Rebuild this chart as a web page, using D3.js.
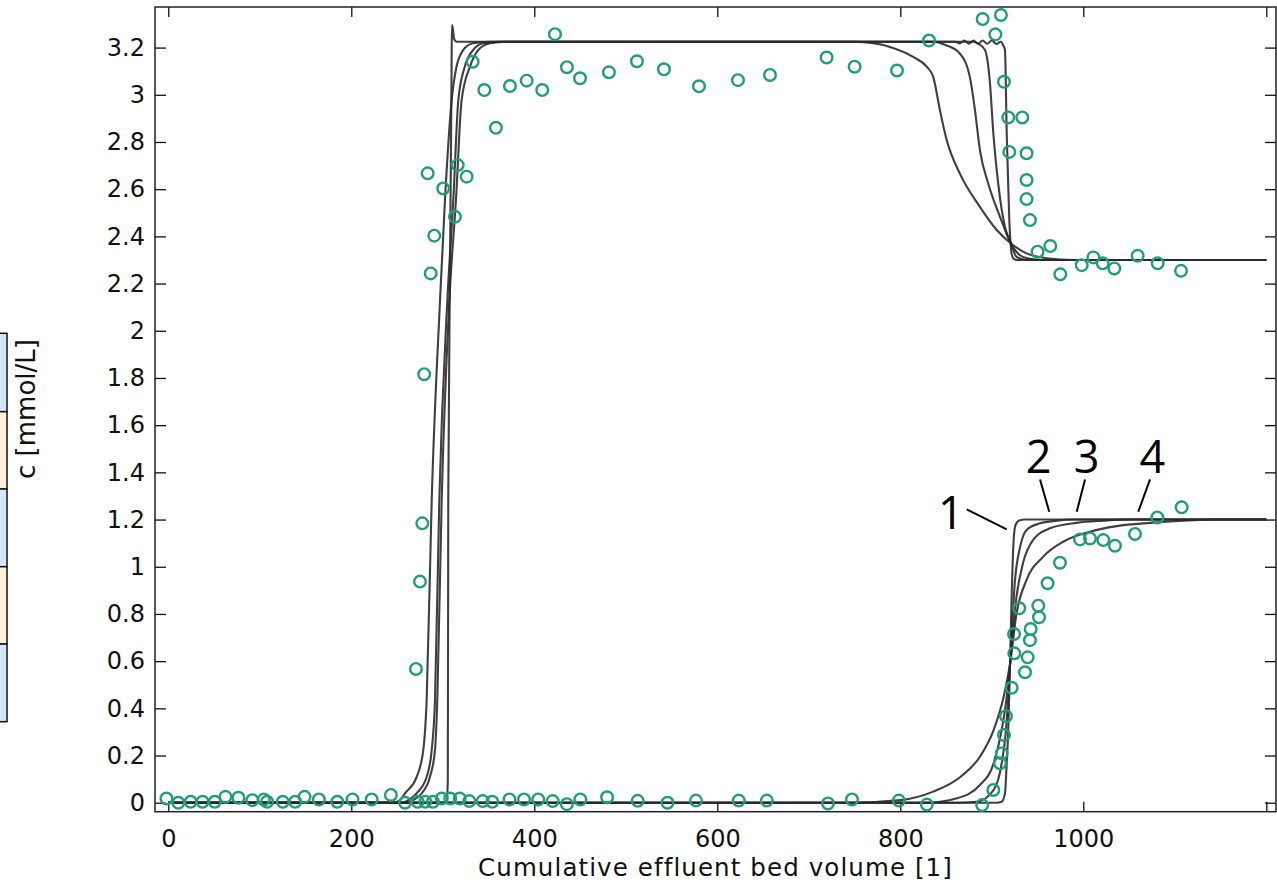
<!DOCTYPE html>
<html>
<head>
<meta charset="utf-8">
<script src="https://cdn.jsdelivr.net/npm/d3@7"></script>
<style>
  html, body { margin: 0; padding: 0; background: #fff; }
  svg { display: block; }
</style>
</head>
<body>
<svg id="chart" width="1277" height="882"></svg>
<script>
// ---------------- data ----------------
const xTicks = [0, 200, 400, 600, 800, 1000, 1200];
const yTicks = [0, 0.2, 0.4, 0.6, 0.8, 1, 1.2, 1.4, 1.6, 1.8, 2, 2.2, 2.4, 2.6, 2.8, 3, 3.2];
const xLabel = "Cumulative effluent bed volume [1]";
const yLabel = "c [mmol/L]";
const curveLabels = ["1", "2", "3", "4"];

// model curves, component A (breakthrough ~300, displacement ~920)
const curveA1 = [[0,0],[304.5,0],[305.5,0.1],[306,1.28],[308,2.3],[309.6,3.1],[310,3.295],[311,3.28],[312.5,3.235],[315,3.225],
  [860,3.225],[865,3.218],[870,3.23],[875,3.217],[880,3.23],[885,3.216],[890,3.23],[895,3.216],[900,3.23],[905,3.215],[910,3.225],
  [912.5,3.21],[914.4,3.19],[916.3,2.836],[919,2.483],[921.6,2.328],[924,2.305],[928,2.3],[1200,2.3]];
const curveA2 = [[0,0],[262,0],[267,0.01],[277,0.04],[286,0.11],[291.5,0.223],[294,0.435],[298.8,1.282],[307.2,2.13],[314.4,2.554],
  [320.6,2.977],[329.7,3.119],[338.8,3.19],[351.6,3.218],[370,3.225],
  [880,3.225],[886,3.215],[892.6,3.19],[898,3.05],[901.7,2.836],[907,2.625],[914.4,2.44],[921,2.37],[927,2.313],[935,2.302],[946,2.3],[1200,2.3]];
const curveA3 = [[0,0],[255,0],[262,0.01],[271.5,0.04],[282.4,0.11],[287.9,0.223],[291.5,0.435],[296.2,1.282],[305,2.13],[311.5,2.554],
  [317,2.977],[324,3.119],[333.3,3.19],[344,3.218],[360,3.225],
  [835,3.225],[850,3.21],[865,3.175],[876,3.076],[881.6,2.935],[887,2.766],[896,2.625],[909,2.483],[921,2.37],[930.8,2.32],[942,2.305],[953,2.3],[1200,2.3]];
const curveA4 = [[0,0],[245,0],[253,0.01],[258.7,0.04],[271.5,0.11],[278.7,0.223],[282.4,0.435],[287.9,1.282],[297,2.13],[302.4,2.554],
  [309.7,2.977],[315,3.119],[322.4,3.19],[333,3.218],[350,3.225],
  [750,3.225],[760,3.223],[788.7,3.203],[814,3.161],[828.9,3.119],[836,3.076],[843.3,2.935],[850.7,2.808],[865,2.667],[887,2.525],
  [905.4,2.427],[921,2.37],[938,2.328],[960,2.307],[989,2.3],[1200,2.3]];

// model curves, component B (breakthrough ~920)
const curveB1 = [[0,0],[905,0],[910.8,0.004],[914.4,0.04],[916.3,0.167],[918,0.308],[920,0.59],[921.7,0.873],[923.5,1.085],[925.4,1.17],[928,1.19],[931,1.197],[936,1.2],[1200,1.2]];
const curveB2 = [[0,0],[862,0],[883.5,0.004],[902,0.054],[910.8,0.167],[915.5,0.308],[918,0.449],[920,0.59],[925.4,0.944],[931,1.085],[938,1.156],[952.6,1.184],[970.9,1.195],[990,1.2],[1200,1.2]];
const curveB3 = [[0,0],[828,0],[862,0.019],[887,0.075],[902,0.167],[910.8,0.308],[916.3,0.449],[920,0.59],[927,0.873],[934,1.014],[945,1.113],[963.6,1.163],[992.8,1.186],[1022,1.195],[1050,1.2],[1200,1.2]];
const curveB4 = [[0,0],[745,0],[800,0.011],[836,0.047],[866,0.11],[887,0.195],[902,0.308],[913,0.449],[920,0.59],[927,0.8],[938,0.944],[956,1.042],[978,1.106],[1007,1.148],[1036.5,1.172],[1073,1.186],[1109,1.195],[1150,1.2],[1200,1.2]];

// measured data, component A
const measA = [[-2,0.018],[11,0],[24.5,0.004],[37.5,0.004],[50.8,0.004],[62.5,0.025],[76.7,0.021],[91.8,0.011],[104.4,0.014],[108,0.004],
  [125.2,0.004],[138.7,0.004],[149,0.025],[164.6,0.014],[184.7,0.004],[201.4,0.014],[222.3,0.014],[243.3,0.033],
  [270.7,0.567],[275.1,0.937],[277.6,1.184],[279.7,1.816],[286.8,2.243],[290.7,2.403],[283.5,2.667],[300.5,2.603],[313.3,2.483],
  [316.3,2.702],[326.1,2.653],[332.7,3.14],[345.4,3.02],[358.1,2.86],[373.4,3.037],[391.7,3.06],[408.7,3.02],[422.6,3.257],
  [435.7,3.117],[450,3.07],[481.6,3.095],[512.2,3.142],[541.7,3.108],[580,3.036],[622.6,3.062],[657.6,3.084],[719.5,3.158],
  [750.1,3.119],[796.4,3.103],[831.4,3.23],[890,3.321],[903.9,3.256],[910,3.338],[913.3,3.055],[918,2.904],[933.3,2.904],
  [919.1,2.758],[938,2.752],[938,2.639],[938,2.558],[941.7,2.469],[950,2.335],[963.9,2.359],[974.9,2.239],[998.3,2.278],
  [1011,2.311],[1021.2,2.286],[1033.9,2.264],[1059.4,2.318],[1081.3,2.286],[1106.8,2.254]];

// measured data, component B
const measB = [[258.7,0],[272.5,0.004],[280.9,0.004],[289.3,0.004],[298.9,0.018],[308.1,0.018],[318.5,0.018],[329,0.007],
  [343.6,0.007],[354.1,0.004],[372.9,0.014],[388.8,0.014],[404.3,0.014],[420.1,0.007],[435.6,-0.006],[450.3,0.014],[479.6,0.023],
  [513,0.008],[545.6,0],[576.7,0.009],[623.5,0.009],[654.1,0.009],[721,-0.003],[747.2,0.014],[798.4,0.009],[829,-0.008],[889.5,-0.01],
  [901.7,0.054],[909,0.167],[910.8,0.209],[913.3,0.287],[915.5,0.367],[921.7,0.487],[924.6,0.633],[924.3,0.715],[930,0.824],
  [936.3,0.553],[939.2,0.616],[941.7,0.689],[942.5,0.736],[951.6,0.786],[950.8,0.835],[961,0.93],[974.5,1.017],[996.4,1.116],
  [1007.3,1.12],[1021.9,1.113],[1034.6,1.089],[1056.5,1.139],[1080.9,1.209],[1107.5,1.252]];

// ---------------- layout ----------------
const svg = d3.select("#chart");
const L = 155, R = 1276, T = 7, B = 811.7;
const x = d3.scaleLinear().domain([-14.5, 1210.6]).range([L, R]);
const y = d3.scaleLinear().domain([-0.038, 3.372]).range([B, T]);
const FONT = "'DejaVu Sans', sans-serif";

// decorative cropped panel on the far left
const panelEdges = [333.3, 411.7, 489, 566.7, 644, 721.7];
const panelFills = ["#d7e6f4", "#fdefd9", "#d7e6f4", "#fdefd9", "#d7e6f4"];
svg.append("g").selectAll("rect").data(panelFills).join("rect")
  .attr("x", -2).attr("width", 9)
  .attr("y", (d, i) => panelEdges[i]).attr("height", (d, i) => panelEdges[i + 1] - panelEdges[i])
  .attr("fill", d => d).attr("stroke", "#111").attr("stroke-width", 1.5);

// axes (ticks inward)
const fmtY = d => String(+d.toFixed(1));
const gB = svg.append("g").attr("transform", `translate(0,${B})`)
  .call(d3.axisBottom(x).tickValues(xTicks).tickSizeInner(-10).tickSizeOuter(0).tickPadding(18.5)
    .tickFormat(d => d === 1200 ? "" : d));
const gT = svg.append("g").attr("transform", `translate(0,${T})`)
  .call(d3.axisTop(x).tickValues(xTicks).tickSizeInner(-10).tickSizeOuter(0).tickFormat(""));
const gL = svg.append("g").attr("transform", `translate(${L},0)`)
  .call(d3.axisLeft(y).tickValues(yTicks).tickSizeInner(-11).tickSizeOuter(0).tickPadding(10).tickFormat(fmtY));
const gR = svg.append("g").attr("transform", `translate(${R},0)`)
  .call(d3.axisRight(y).tickValues(yTicks).tickSizeInner(-11).tickSizeOuter(0).tickFormat(""));
[gB, gT, gL, gR].forEach(g => {
  g.select(".domain").remove();
  g.selectAll(".tick line").attr("stroke", "#111").attr("stroke-width", 1.3);
  g.selectAll("text").attr("font-family", FONT).attr("font-size", 24).attr("fill", "#111");
});

// frame
svg.append("rect").attr("x", L).attr("y", T).attr("width", R - L).attr("height", B - T)
  .attr("fill", "none").attr("stroke", "#222").attr("stroke-width", 1.5);

// model curves
const line = d3.line().x(d => x(d[0])).y(d => y(d[1])).curve(d3.curveMonotoneX);
const curves = [curveA4, curveA3, curveA2, curveA1, curveB4, curveB3, curveB2, curveB1];
svg.append("g").selectAll("path").data(curves).join("path")
  .attr("d", line).attr("fill", "none").attr("stroke", "#2a2a2a")
  .attr("stroke-width", 2.1).attr("stroke-opacity", 0.9).attr("stroke-linejoin", "round");

// measured points
svg.append("g").selectAll("circle").data(measA.concat(measB)).join("circle")
  .attr("cx", d => x(d[0])).attr("cy", d => y(d[1])).attr("r", 5.8)
  .attr("fill", "none").attr("stroke", "#1f9e78").attr("stroke-width", 2.4);

// curve annotations (data units)
const annText = [[855.4, 1.161], [951.3, 1.396], [1003.7, 1.396], [1075.6, 1.396]];
const annLines = [[[872.6, 1.243], [916.3, 1.158]], [[952.7, 1.370], [962.8, 1.233]],
                  [[1001.9, 1.370], [992.8, 1.233]], [[1072.9, 1.370], [1060.1, 1.233]]];
const ga = svg.append("g");
ga.selectAll("line").data(annLines).join("line")
  .attr("x1", d => x(d[0][0])).attr("y1", d => y(d[0][1]))
  .attr("x2", d => x(d[1][0])).attr("y2", d => y(d[1][1]))
  .attr("stroke", "#000").attr("stroke-width", 2);
ga.selectAll("text").data(curveLabels).join("text")
  .attr("x", (d, i) => x(annText[i][0])).attr("y", (d, i) => y(annText[i][1]))
  .attr("text-anchor", "middle").attr("font-family", "'Open Sans', 'Noto Sans', sans-serif")
  .attr("font-size", 45).attr("fill", "#000").text(d => d);

// axis titles
svg.append("text").attr("x", (L + R) / 2).attr("y", 875.5).attr("text-anchor", "middle")
  .attr("font-family", FONT).attr("font-size", 24.5).attr("letter-spacing", 1.1)
  .attr("fill", "#111").text(xLabel);
svg.append("text").attr("transform", "translate(35,409) rotate(-90)").attr("text-anchor", "middle")
  .attr("font-family", FONT).attr("font-size", 26).attr("fill", "#111").text(yLabel);
</script>
</body>
</html>
